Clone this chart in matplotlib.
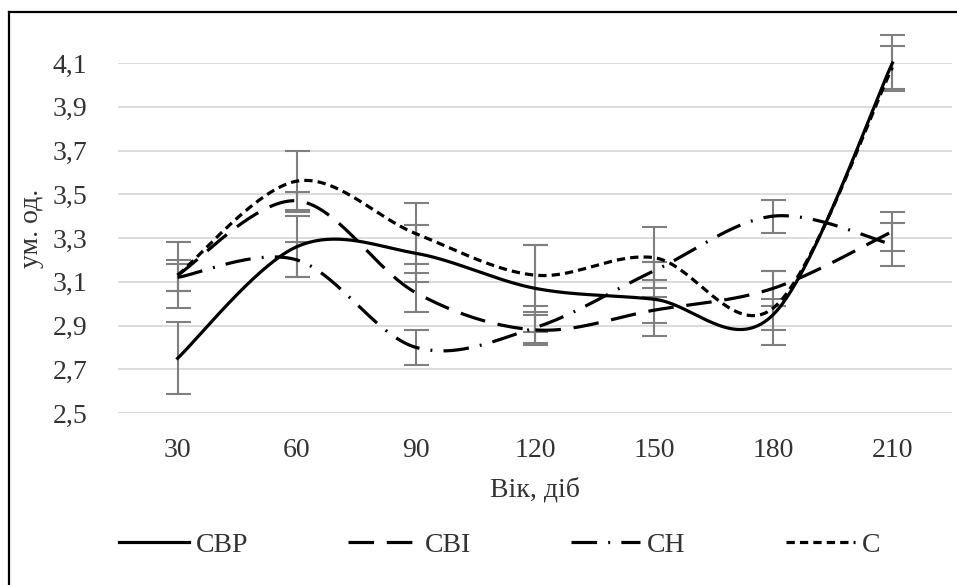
import numpy as np
import matplotlib
matplotlib.use('Agg')
import matplotlib.pyplot as plt
from matplotlib.lines import Line2D

plt.rcParams['font.family'] = ['Liberation Serif', 'DejaVu Serif']

# дані (вік, діб)
days = [30, 60, 90, 120, 150, 180, 210]

cbp = [2.75, 3.26, 3.23, 3.07, 3.02, 2.95, 4.10]
cbp_err = [0.165, 0.14, 0.13, 0.20, 0.17, 0.07, 0.13]

cbi = [3.13, 3.47, 3.05, 2.88, 2.97, 3.07, 3.33]
cbi_err = [0.07, 0.04, 0.09, 0.07, 0.06, 0.08, 0.09]

ch = [3.12, 3.20, 2.80, 2.89, 3.15, 3.40, 3.27]
ch_err = [0.06, 0.08, 0.08, 0.07, 0.04, 0.075, 0.10]

c = [3.13, 3.56, 3.32, 3.13, 3.21, 2.98, 4.08]
c_err = [0.15, 0.14, 0.14, 0.14, 0.14, 0.17, 0.10]

labels = ['СВР', 'СВІ', 'СН', 'С']
yticks = [2.5, 2.7, 2.9, 3.1, 3.3, 3.5, 3.7, 3.9, 4.1]


def smooth(x, y, n=40):
    """згладжування як в Excel (Catmull-Rom через Безьє)"""
    x = np.asarray(x, float)
    y = np.asarray(y, float)
    pts = np.column_stack([x, y])
    out = []
    for i in range(len(pts) - 1):
        p0 = pts[max(i - 1, 0)]
        p1 = pts[i]
        p2 = pts[i + 1]
        p3 = pts[min(i + 2, len(pts) - 1)]
        c1 = p1 + (p2 - p0) / 6
        c2 = p2 - (p3 - p1) / 6
        t = np.linspace(0, 1, n)[:, None]
        seg = ((1 - t) ** 3) * p1 + 3 * ((1 - t) ** 2) * t * c1 + 3 * (1 - t) * t ** 2 * c2 + t ** 3 * p2
        out.append(seg if i == 0 else seg[1:])
    out = np.vstack(out)
    return out[:, 0], out[:, 1]


fig = plt.figure(figsize=(9.57, 5.85), dpi=100)
ax = fig.add_axes([118 / 957, 1 - 413 / 585, 834 / 957, 350 / 585])

series = [
    (cbp, cbp_err, dict(linestyle='-')),
    (cbi, cbi_err, dict(dashes=(8, 4))),
    (ch, ch_err, dict(dashes=(8, 3.5, 0.6, 3.5))),
    (c, c_err, dict(dashes=(2.6, 1.6))),
]

handles = []
for (vals, err, style), lab in zip(series, labels):
    ax.errorbar(days, vals, yerr=err, fmt='none', ecolor='#7f7f7f', elinewidth=1.5,
                capsize=9, capthick=1.5, zorder=2, clip_on=False)
    xs, ys = smooth(days, vals)
    ax.plot(xs, ys, color='black', lw=2.3, zorder=3, clip_on=False, **style)
    handles.append(Line2D([], [], color='black', lw=2.3, **style))

ax.set_xlim(15, 225)
ax.set_ylim(2.5, 4.1)
ax.set_xticks(days)
ax.set_xticklabels([str(d) for d in days])
ax.set_yticks(yticks)
ax.set_yticklabels([f'{v:.1f}'.replace('.', ',') for v in yticks])
ax.tick_params(length=0, labelsize=20, colors='#333333')
ax.tick_params(axis='y', pad=22)
ax.tick_params(axis='x', pad=18)
ax.grid(axis='y', color='#d9d9d9', lw=1.3)
ax.set_axisbelow(True)
for s in ax.spines.values():
    s.set_visible(False)

ax.set_xlabel('Вік, діб', fontsize=20, color='#333333', labelpad=10)
fig.text(31 / 957, 1 - 228 / 585, 'ум. од.', rotation=90, fontsize=20, color='#333333',
         ha='center', va='center')

fig.legend(handles, labels, loc='center', bbox_to_anchor=(500 / 957, 1 - 545 / 585),
           ncol=4, frameon=False, fontsize=20, handlelength=2.5, handletextpad=0.25,
           columnspacing=3.6, labelcolor='#333333')

# рамка зліва і зверху
fig.add_artist(Line2D([9 / 957, 9 / 957], [0, 1 - 12 / 585], color='black', lw=1.6))
fig.add_artist(Line2D([9 / 957, 1], [1 - 12 / 585, 1 - 12 / 585], color='black', lw=1.6))

fig.savefig('out.png', dpi=100)
